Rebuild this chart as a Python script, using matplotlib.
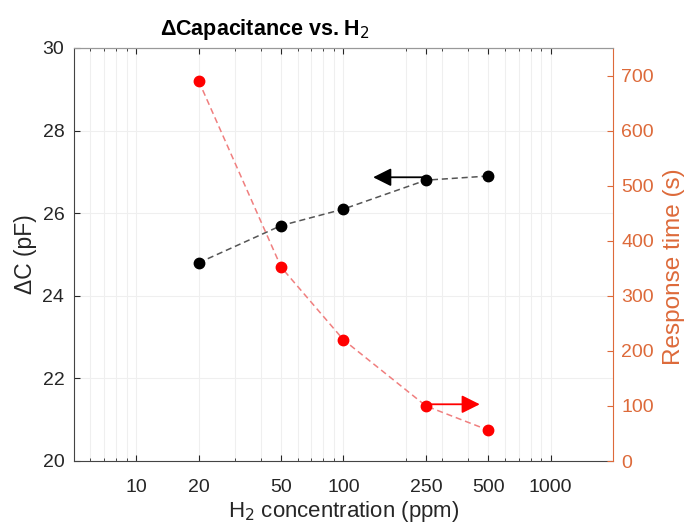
import matplotlib
matplotlib.use("Agg")
import matplotlib.pyplot as plt
from matplotlib.ticker import FixedLocator, NullFormatter

plt.rcParams['font.family'] = ['Liberation Sans', 'DejaVu Sans']

# Data
conc = [20, 50, 100, 250, 500]
delta_c = [24.8, 25.7, 26.1, 26.8, 26.9]
resp_time = [690, 352, 220, 100, 56]

x_major = [10, 20, 50, 100, 250, 500, 1000]
x_major_labels = ['10', '20', '50', '100', '250', '500', '1000']
x_minor = [5, 6, 7, 8, 9, 30, 40, 60, 70, 80, 90, 200, 300, 400, 600, 700, 800, 900]
y_left_ticks = [20, 22, 24, 26, 28, 30]
y_right_ticks = [0, 100, 200, 300, 400, 500, 600, 700]

# Arrow annotations (data coordinates)
black_arrow = ((250, 26.87), (139, 26.87))
red_arrow = ((250, 103), (455, 103))

orange = '#DD6A3A'
axis_gray = '#262626'
grid_c = '#efefef'

fig = plt.figure(figsize=(6.88, 5.29), dpi=100)
ax = fig.add_axes([74/688, 68/529, (613-74)/688, (461-48)/529])
ax2 = ax.twinx()

ax.set_xscale('log')
ax.set_xlim(5, 2000)
ax.set_ylim(20, 30)
ax2.set_ylim(0, 750)

ax.xaxis.set_major_locator(FixedLocator(x_major))
ax.set_xticklabels(x_major_labels)
ax.xaxis.set_minor_locator(FixedLocator(x_minor))
ax.xaxis.set_minor_formatter(NullFormatter())
ax.set_yticks(y_left_ticks)
ax.set_yticklabels([str(v) for v in y_left_ticks])
ax2.set_yticks(y_right_ticks)
ax2.set_yticklabels([str(v) for v in y_right_ticks])

ax.grid(True, which='major', axis='both', color=grid_c, linewidth=0.8)
ax.grid(True, which='minor', axis='x', color=grid_c, linewidth=0.8)
ax.set_axisbelow(True)

ax.tick_params(axis='x', which='major', direction='in', length=4, top=True,
               labelsize=14, colors=axis_gray, pad=13)
ax.tick_params(axis='x', which='minor', direction='in', length=2.5, top=True,
               colors=axis_gray)
ax.tick_params(axis='y', which='major', direction='in', length=4,
               labelsize=14, colors=axis_gray, pad=7)
ax2.tick_params(axis='y', which='major', direction='in', length=4,
                labelsize=14, colors=orange, pad=6)

for side in ['left', 'bottom']:
    ax.spines[side].set_color('#444444')
ax.spines['top'].set_color('#999999')
ax2.spines['top'].set_color('#999999')
ax2.spines['right'].set_color(orange)
ax.spines['right'].set_visible(False)
ax2.spines['left'].set_visible(False)
ax2.spines['bottom'].set_visible(False)

ax.plot(conc, delta_c, linestyle=(0, (4, 2.5)), color='#555555', linewidth=1.1,
        marker='o', markersize=7.5, markerfacecolor='black', markeredgecolor='black', zorder=3)
ax2.plot(conc, resp_time, linestyle=(0, (4, 2.5)), color='#f07f7f', linewidth=1.1,
         marker='o', markersize=7.5, markerfacecolor='red', markeredgecolor='red', zorder=3)

ax.annotate('', xy=black_arrow[1], xytext=black_arrow[0],
            arrowprops=dict(arrowstyle='-|>,head_length=1.1,head_width=0.55',
                            color='black', lw=1.3, shrinkA=0, shrinkB=0))
ax2.annotate('', xy=red_arrow[1], xytext=red_arrow[0],
             arrowprops=dict(arrowstyle='-|>,head_length=1.1,head_width=0.55',
                             color='red', lw=1.3, shrinkA=0, shrinkB=0))

ax.set_xlabel('H$_2$ concentration (ppm)', fontsize=16, color=axis_gray, labelpad=2)
ax.set_ylabel('ΔC (pF)', fontsize=16.5, color=axis_gray, labelpad=4)
ax2.set_ylabel('Response time (s)', fontsize=17.5, color=orange)
ax2.yaxis.set_label_coords(1.093, 0.47)

fig.text(265/688, 1 - 29/529, 'ΔCapacitance vs. H$_2$', fontsize=15.5, fontweight='bold',
         ha='center', va='center', color='black')

fig.savefig('out.png', dpi=100)
